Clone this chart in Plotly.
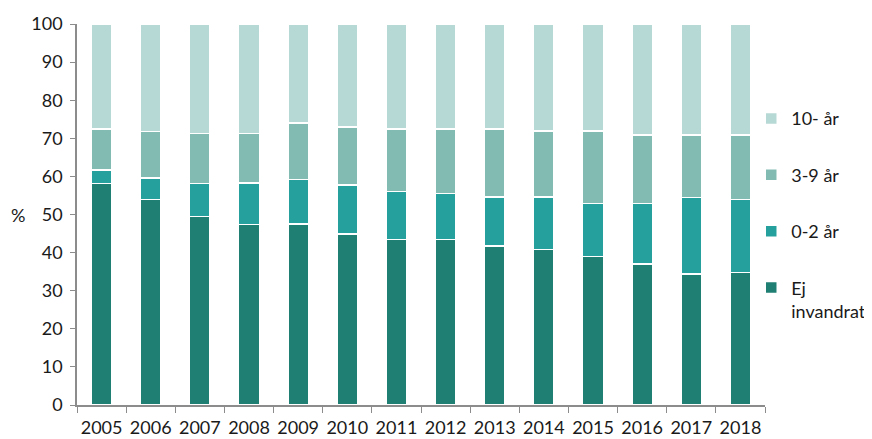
import plotly.graph_objects as go

years = [str(y) for y in range(2005, 2019)]
# Cumulative levels (top of each stacked segment)
ej = [58.2, 53.9, 49.5, 47.4, 47.5, 44.9, 43.4, 43.4, 41.7, 40.8, 39.0, 37.0, 34.4, 34.8]
cum_02 = [61.7, 59.6, 58.2, 58.3, 59.2, 57.7, 56.0, 55.5, 54.6, 54.6, 52.9, 52.9, 54.5, 53.9]
cum_39 = [72.4, 71.8, 71.2, 71.2, 74.0, 73.0, 72.5, 72.5, 72.5, 71.9, 71.9, 70.9, 70.9, 70.9]

s_ej = ej
s_02 = [round(b - a, 2) for a, b in zip(ej, cum_02)]
s_39 = [round(b - a, 2) for a, b in zip(cum_02, cum_39)]
s_10 = [round(100 - a, 2) for a in cum_39]

names = ["Ej<br>invandrat", "0-2 år", "3-9 år", "10- år"]
colors = ["#1f7f73", "#26a09c", "#82bbb2", "#b7d9d6"]
series = [s_ej, s_02, s_39, s_10]
ranks = [4, 3, 2, 1]

FONT = "Lato, 'Open Sans', sans-serif"

fig = go.Figure()
for i, (n, c, s, r) in enumerate(zip(names, colors, series, ranks)):
    fig.add_trace(go.Bar(
        x=years, y=s, name=n, legendgroup=f"g{i}", legendrank=r,
        marker=dict(color=c, line=dict(color="white", width=1.5)),
        width=0.42,
    ))

fig.update_layout(
    barmode="stack",
    width=864, height=431,
    margin=dict(l=69, r=107, t=16, b=34, autoexpand=False),
    paper_bgcolor="white", plot_bgcolor="white",
    font=dict(family=FONT, size=18, color="#1a1a1a"),
    showlegend=True,
    legend=dict(
        x=0.98, y=0.80, xanchor="left", yanchor="top",
        traceorder="grouped", tracegroupgap=30,
        valign="top", itemwidth=30,
        font=dict(size=18, color="#1a1a1a"),
    ),
    xaxis=dict(
        type="category", showline=True, linecolor="#8c8c8c", linewidth=1.5,
        ticks="outside", tickson="boundaries", ticklen=6, tickcolor="#8c8c8c",
        showgrid=False, tickfont=dict(size=18), tickangle=0, automargin=False,
        ticklabelstandoff=6, range=[-0.5, 13.5],
    ),
    yaxis=dict(
        range=[0, 100], dtick=10, showline=True, linecolor="#8c8c8c", linewidth=1.5,
        ticks="outside", ticklen=5, tickcolor="#8c8c8c", showgrid=False,
        zeroline=False, tickfont=dict(size=18), automargin=False,
        ticklabelstandoff=4,
    ),
    annotations=[dict(
        text="%", xref="paper", yref="paper", x=-0.086, y=0.5,
        showarrow=False, font=dict(size=18, color="#1a1a1a"), xanchor="center",
    )],
)

fig.write_html("out.html")
